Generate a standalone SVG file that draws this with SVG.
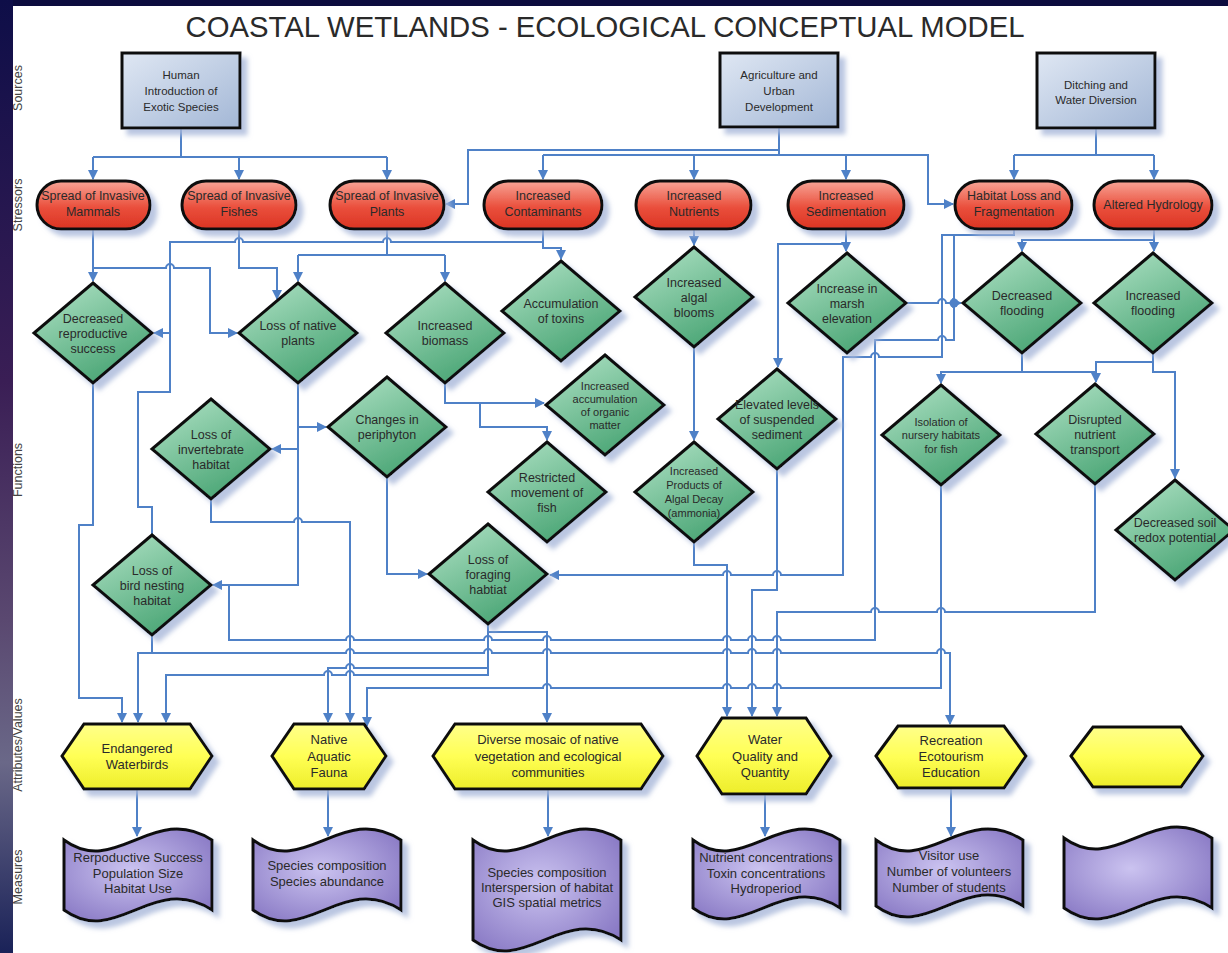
<svg xmlns="http://www.w3.org/2000/svg" width="1228" height="953" viewBox="0 0 1228 953">
<defs>
<style>
.box{fill:url(#gB);stroke:#111;stroke-width:3;filter:url(#sh)}
.pill{fill:url(#gR);stroke:#111;stroke-width:3;filter:url(#sh)}
.dia{fill:url(#gG);stroke:#111;stroke-width:3;filter:url(#sh)}
.hex{fill:url(#gY);stroke:#111;stroke-width:3;filter:url(#sh)}
.doc{fill:url(#gP);stroke:#111;stroke-width:3;filter:url(#sh)}
text{font-family:"Liberation Sans",Arial,sans-serif;fill:#2a2a2a;text-anchor:middle}
.t{font-size:12.5px}
.s{font-size:11px}
.ts{font-size:11.5px}
.m{font-size:13px}
.lab{font-size:12.5px;fill:#444}
.c{fill:none;stroke:#4f81c7;stroke-width:2}
.a{marker-end:url(#ah)}
</style>
<linearGradient id="gB" x1="0" y1="0" x2="1" y2="1"><stop offset="0" stop-color="#dfe7f3"/><stop offset="1" stop-color="#a3b7d6"/></linearGradient>
<linearGradient id="gR" x1="0" y1="0" x2="0" y2="1"><stop offset="0" stop-color="#f7a496"/><stop offset="0.55" stop-color="#ea4f3c"/><stop offset="1" stop-color="#db3422"/></linearGradient>
<linearGradient id="gG" x1="0.2" y1="0" x2="0.8" y2="1"><stop offset="0" stop-color="#a9dec0"/><stop offset="1" stop-color="#41a06e"/></linearGradient>
<linearGradient id="gY" x1="0" y1="0" x2="0" y2="1"><stop offset="0" stop-color="#ffff8a"/><stop offset="0.5" stop-color="#ffff55"/><stop offset="1" stop-color="#eded2a"/></linearGradient>
<radialGradient id="gP" cx="0.45" cy="0.45" r="0.7"><stop offset="0" stop-color="#cbc3f0"/><stop offset="1" stop-color="#8575c2"/></radialGradient>
<linearGradient id="gL" x1="0" y1="0" x2="0" y2="1"><stop offset="0" stop-color="#0e0e48"/><stop offset="0.4" stop-color="#3a1e55"/><stop offset="0.65" stop-color="#5a4870"/><stop offset="0.8" stop-color="#6a6888"/><stop offset="1" stop-color="#1a2258"/></linearGradient>
<filter id="sh" x="-20%" y="-20%" width="150%" height="150%">
<feGaussianBlur in="SourceAlpha" stdDeviation="2.5"/>
<feOffset dx="6" dy="6" result="o"/>
<feFlood flood-color="#a9b8da" flood-opacity="0.8"/>
<feComposite in2="o" operator="in"/>
<feMerge><feMergeNode/><feMergeNode in="SourceGraphic"/></feMerge>
</filter>
<marker id="ah" viewBox="0 0 10 10" refX="9" refY="5" markerWidth="5" markerHeight="5" orient="auto"><path d="M0,0 L10,5 L0,10 z" fill="#4f81c7"/></marker>
</defs>

<rect width="1228" height="953" fill="#0c0c3e"/>
<rect x="0" y="0" width="13" height="953" fill="url(#gL)"/>
<rect x="13" y="6" width="1215" height="947" fill="#ffffff"/>

<text x="605" y="37" font-size="29" textLength="839" lengthAdjust="spacingAndGlyphs" fill="#1e1e1e">COASTAL WETLANDS - ECOLOGICAL CONCEPTUAL MODEL</text>

<g id="row-labels">
<text class="lab" transform="translate(22,88) rotate(-90)">Sources</text>
<text class="lab" transform="translate(22,205) rotate(-90)">Stressors</text>
<text class="lab" transform="translate(22,470) rotate(-90)">Functions</text>
<text class="lab" transform="translate(22,745) rotate(-90)">Attributes/Values</text>
<text class="lab" transform="translate(22,877) rotate(-90)">Measures</text>
</g>

<g id="connectors">
<path class="c" d="M181,128 V157 M93,157 H387"/>
<path class="c a" d="M93,157 V179"/>
<path class="c a" d="M239,157 V179"/>
<path class="c a" d="M387,157 V179"/>
<path class="c" d="M779,127 V155"/>
<path class="c a" d="M779,150 H468 V204 H446"/>
<path class="c a" d="M543,155 H928 V204 H953"/>
<path class="c a" d="M543,155 V179"/>
<path class="c a" d="M694,155 V179"/>
<path class="c a" d="M846,155 V179"/>
<path class="c" d="M1096,128 V155 M1014,155 H1154"/>
<path class="c a" d="M1014,155 V179"/>
<path class="c a" d="M1154,155 V179"/>

<path class="c a" d="M93,229 V281"/>
<path class="c a" d="M93,268 H166 a4,4 0 0 1 8,0 H210 V333 H237"/>
<path class="c a" d="M239,229 V268 H277 V299"/>
<path class="c" d="M387,229 V255 M298,255 H445"/>
<path class="c a" d="M298,255 V281"/>
<path class="c a" d="M445,255 V281"/>
<path class="c a" d="M543,229 V248 H561 V259"/>
<path class="c a" d="M543,242 H391 a4,4 0 0 0 -8,0 H243 a4,4 0 0 0 -8,0 H170 V333 H154"/>
<path class="c" d="M170,333 V392 H138 V507 H152 V535"/>
<path class="c a" d="M694,229 V245"/>
<path class="c a" d="M846,229 V251"/>
<path class="c a" d="M846,244 H778 V367"/>
<path class="c a" d="M1014,229 V235 H942 V357 H879 a4,4 0 0 0 -8,0 H843 V575 H781 a4,4 0 0 0 -8,0 H731 a4,4 0 0 0 -8,0 H550"/>
<path class="c" d="M954,235 V340 H946 a4,4 0 0 0 -8,0 H875 V640 H781 a4,4 0 0 0 -8,0 H756 a4,4 0 0 0 -8,0 H731 a4,4 0 0 0 -8,0 H551 a4,4 0 0 0 -8,0 H492 a4,4 0 0 0 -8,0 H354 a4,4 0 0 0 -8,0 H229 V585"/>
<path class="c a" d="M906,303 H938 a4,4 0 0 1 8,0 H961"/>
<circle cx="954" cy="303" r="4.5" fill="#4f81c7"/>
<path class="c a" d="M1154,229 V251"/>
<path class="c a" d="M1154,240 H1022 V251"/>

<path class="c a" d="M93,383 V525 H79 V698 H122 V722"/>
<path class="c a" d="M298,383 V585 H213"/>
<path class="c a" d="M298,427 H326"/>
<path class="c a" d="M298,449 H272"/>
<path class="c a" d="M445,383 V403 H544"/>
<path class="c a" d="M480,403 V427 H547 V440"/>
<path class="c a" d="M694,347 V440"/>
<path class="c a" d="M387,477 V574 H427"/>
<path class="c a" d="M211,499 V522 H294 a4,4 0 0 1 8,0 H350 V722"/>
<path class="c a" d="M694,542 V565 H727 V716"/>
<path class="c a" d="M777,469 V590 H752 V716"/>
<path class="c a" d="M1095,484 V612 H945 a4,4 0 0 0 -8,0 H879 a4,4 0 0 0 -8,0 H777 V716"/>
<path class="c a" d="M941,485 V688 H781 a4,4 0 0 0 -8,0 H756 a4,4 0 0 0 -8,0 H731 a4,4 0 0 0 -8,0 H551 a4,4 0 0 0 -8,0 H367 V726"/>
<path class="c a" d="M152,635 V653 H138 V722"/>
<path class="c a" d="M152,653 H346 a4,4 0 0 1 8,0 H484 a4,4 0 0 1 8,0 H543 a4,4 0 0 1 8,0 H723 a4,4 0 0 1 8,0 H748 a4,4 0 0 1 8,0 H773 a4,4 0 0 1 8,0 H937 a4,4 0 0 1 8,0 H950 V724"/>
<path class="c a" d="M488,624 V675 H354 a4,4 0 0 0 -8,0 H332 a4,4 0 0 0 -8,0 H166 V722"/>
<path class="c a" d="M488,668 H354 a4,4 0 0 0 -8,0 H328 V722"/>
<path class="c a" d="M488,632 H547 V722"/>
<path class="c a" d="M1153,353 V372 H1175 V478"/>
<path class="c a" d="M1153,362 H1096 V382"/>
<path class="c a" d="M1022,353 V372 H941 V383"/>
<path class="c" d="M1022,372 H1096"/>

<path class="c a" d="M137,789 V836"/>
<path class="c a" d="M328,789 V836"/>
<path class="c a" d="M548,789 V836"/>
<path class="c a" d="M765,794 V836"/>
<path class="c a" d="M951,788 V836"/>
</g>

<g id="src-human"><rect class="box" x="122" y="53" width="118" height="75"/>
<text class="ts" x="181" y="79">Human</text><text class="ts" x="181" y="95">Introduction of</text><text class="ts" x="181" y="111">Exotic Species</text></g>
<g id="src-agri"><rect class="box" x="720" y="53" width="118" height="74"/>
<text class="ts" x="779" y="79">Agriculture and</text><text class="ts" x="779" y="95">Urban</text><text class="ts" x="779" y="111">Development</text></g>
<g id="src-ditch"><rect class="box" x="1037" y="53" width="118" height="75"/>
<text class="ts" x="1096" y="89">Ditching and</text><text class="ts" x="1096" y="104">Water Diversion</text></g>

<g id="st-mammals"><rect class="pill" x="37" y="181" width="113" height="48" rx="24"/>
<text class="t" x="93" y="200">Spread of Invasive</text><text class="t" x="93" y="216">Mammals</text></g>
<g id="st-fishes"><rect class="pill" x="182" y="181" width="114" height="48" rx="24"/>
<text class="t" x="239" y="200">Spread of Invasive</text><text class="t" x="239" y="216">Fishes</text></g>
<g id="st-plants"><rect class="pill" x="330" y="181" width="114" height="48" rx="24"/>
<text class="t" x="387" y="200">Spread of Invasive</text><text class="t" x="387" y="216">Plants</text></g>
<g id="st-contam"><rect class="pill" x="484" y="181" width="118" height="48" rx="24"/>
<text class="t" x="543" y="200">Increased</text><text class="t" x="543" y="216">Contaminants</text></g>
<g id="st-nutr"><rect class="pill" x="636" y="181" width="115" height="48" rx="24"/>
<text class="t" x="694" y="200">Increased</text><text class="t" x="694" y="216">Nutrients</text></g>
<g id="st-sed"><rect class="pill" x="788" y="181" width="116" height="48" rx="24"/>
<text class="t" x="846" y="200">Increased</text><text class="t" x="846" y="216">Sedimentation</text></g>
<g id="st-habitat"><rect class="pill" x="955" y="181" width="117" height="48" rx="24"/>
<text class="t" x="1014" y="200">Habitat Loss and</text><text class="t" x="1014" y="216">Fragmentation</text></g>
<g id="st-hydro"><rect class="pill" x="1094" y="181" width="118" height="48" rx="24"/>
<text class="t" x="1153" y="209">Altered Hydrology</text></g>

<g id="fn-repro"><polygon class="dia" points="93,283 152,333 93,383 34,333"/>
<text class="t" x="93" y="322.5">Decreased</text><text class="t" x="93" y="337.5">reproductive</text><text class="t" x="93" y="352.5">success</text></g>
<g id="fn-natplants"><polygon class="dia" points="298,283 357,333 298,383 239,333"/>
<text class="t" x="298" y="330">Loss of native</text><text class="t" x="298" y="345">plants</text></g>
<g id="fn-biomass"><polygon class="dia" points="445,283 504,333 445,383 386,333"/>
<text class="t" x="445" y="330">Increased</text><text class="t" x="445" y="345">biomass</text></g>
<g id="fn-toxins"><polygon class="dia" points="561,261 620,311 561,361 502,311"/>
<text class="t" x="561" y="308">Accumulation</text><text class="t" x="561" y="323">of toxins</text></g>
<g id="fn-algal"><polygon class="dia" points="694,247 753,297 694,347 635,297"/>
<text class="t" x="694" y="286.5">Increased</text><text class="t" x="694" y="301.5">algal</text><text class="t" x="694" y="316.5">blooms</text></g>
<g id="fn-marsh"><polygon class="dia" points="847,253 906,303 847,353 788,303"/>
<text class="t" x="847" y="292.5">Increase in</text><text class="t" x="847" y="307.5">marsh</text><text class="t" x="847" y="322.5">elevation</text></g>
<g id="fn-decflood"><polygon class="dia" points="1022,253 1081,303 1022,353 963,303"/>
<text class="t" x="1022" y="300">Decreased</text><text class="t" x="1022" y="315">flooding</text></g>
<g id="fn-incflood"><polygon class="dia" points="1153,253 1212,303 1153,353 1094,303"/>
<text class="t" x="1153" y="300">Increased</text><text class="t" x="1153" y="315">flooding</text></g>
<g id="fn-accum"><polygon class="dia" points="605,355 664,405 605,455 546,405"/>
<text class="s" x="605" y="389.5">Increased</text><text class="s" x="605" y="402.5">accumulation</text><text class="s" x="605" y="415.5">of organic</text><text class="s" x="605" y="428.5">matter</text></g>
<g id="fn-periphyton"><polygon class="dia" points="387,377 446,427 387,477 328,427"/>
<text class="t" x="387" y="424">Changes in</text><text class="t" x="387" y="439">periphyton</text></g>
<g id="fn-invert"><polygon class="dia" points="211,399 270,449 211,499 152,449"/>
<text class="t" x="211" y="438.5">Loss of</text><text class="t" x="211" y="453.5">invertebrate</text><text class="t" x="211" y="468.5">habitat</text></g>
<g id="fn-elevated"><polygon class="dia" points="777,369 836,419 777,469 718,419"/>
<text class="t" x="777" y="408.5">Elevated levels</text><text class="t" x="777" y="423.5">of suspended</text><text class="t" x="777" y="438.5">sediment</text></g>
<g id="fn-isolation"><polygon class="dia" points="941,385 1000,435 941,485 882,435"/>
<text class="s" x="941" y="425.5">Isolation of</text><text class="s" x="941" y="439">nursery habitats</text><text class="s" x="941" y="452.5">for fish</text></g>
<g id="fn-disrupted"><polygon class="dia" points="1095,384 1154,434 1095,484 1036,434"/>
<text class="t" x="1095" y="423.5">Disrupted</text><text class="t" x="1095" y="438.5">nutrient</text><text class="t" x="1095" y="453.5">transport</text></g>
<g id="fn-restricted"><polygon class="dia" points="547,442 606,492 547,542 488,492"/>
<text class="t" x="547" y="481.5">Restricted</text><text class="t" x="547" y="496.5">movement of</text><text class="t" x="547" y="511.5">fish</text></g>
<g id="fn-products"><polygon class="dia" points="694,442 753,492 694,542 635,492"/>
<text class="s" x="694" y="475">Increased</text><text class="s" x="694" y="489">Products of</text><text class="s" x="694" y="503">Algal Decay</text><text class="s" x="694" y="517">(ammonia)</text></g>
<g id="fn-redox"><polygon class="dia" points="1175,480 1234,530 1175,580 1116,530"/>
<text class="t" x="1175" y="526.5">Decreased soil</text><text class="t" x="1175" y="541.5">redox potential</text></g>
<g id="fn-birdnest"><polygon class="dia" points="152,535 211,585 152,635 93,585"/>
<text class="t" x="152" y="574.5">Loss of</text><text class="t" x="152" y="589.5">bird nesting</text><text class="t" x="152" y="604.5">habitat</text></g>
<g id="fn-foraging"><polygon class="dia" points="488,524 547,574 488,624 429,574"/>
<text class="t" x="488" y="563.5">Loss of</text><text class="t" x="488" y="578.5">foraging</text><text class="t" x="488" y="593.5">habtiat</text></g>

<g id="av-waterbirds"><polygon class="hex" points="62,756 84,724 190,724 212,756 190,789 84,789"/>
<text class="m" x="137" y="752.5">Endangered</text><text class="m" x="137" y="769">Waterbirds</text></g>
<g id="av-fauna"><polygon class="hex" points="272,756 294,724 364,724 386,756 364,789 294,789"/>
<text class="m" x="329" y="744">Native</text><text class="m" x="329" y="760.5">Aquatic</text><text class="m" x="329" y="777">Fauna</text></g>
<g id="av-mosaic"><polygon class="hex" points="433,756 455,724 641,724 663,756 641,789 455,789"/>
<text class="m" x="548" y="744">Diverse mosaic of native</text><text class="m" x="548" y="760.5">vegetation and ecological</text><text class="m" x="548" y="777">communities</text></g>
<g id="av-water"><polygon class="hex" points="697,756 722,718 806,718 831,756 806,794 722,794"/>
<text class="m" x="765" y="744">Water</text><text class="m" x="765" y="760.5">Quality and</text><text class="m" x="765" y="777">Quantity</text></g>
<g id="av-recreation"><polygon class="hex" points="876,756 898,726 1004,726 1026,756 1004,788 898,788"/>
<text class="m" x="951" y="745">Recreation</text><text class="m" x="951" y="761">Ecotourism</text><text class="m" x="951" y="777">Education</text></g>
<g id="av-empty"><polygon class="hex" points="1071,756 1093,727 1181,727 1203,756 1181,787 1093,787"/></g>

<g id="ms-birds"><path class="doc" d="M64,840 C116,878 153,802 212,840 V910 C153,872 116,948 64,910 Z"/>
<text class="m" x="138" y="861.5">Rerpoductive Success</text><text class="m" x="138" y="877.5">Population Size</text><text class="m" x="138" y="892.5">Habitat Use</text></g>
<g id="ms-fauna"><path class="doc" d="M253,840 C305,878 342,802 401,840 V910 C342,872 305,948 253,910 Z"/>
<text class="m" x="327" y="869.5">Species composition</text><text class="m" x="327" y="885.5">Species abundance</text></g>
<g id="ms-mosaic"><path class="doc" d="M473,840 C525,878 562,802 621,840 V940 C562,902 525,978 473,940 Z"/>
<text class="m" x="547" y="876.5">Species composition</text><text class="m" x="547" y="891.5">Interspersion of habitat</text><text class="m" x="547" y="906.5">GIS spatial metrics</text></g>
<g id="ms-water"><path class="doc" d="M693,840 C744,878 781,802 840,840 V908 C781,870 744,946 693,908 Z"/>
<text class="m" x="766" y="861.5">Nutrient concentrations</text><text class="m" x="766" y="877.5">Toxin concentrations</text><text class="m" x="766" y="892.5">Hydroperiod</text></g>
<g id="ms-recreation"><path class="doc" d="M876,840 C927,878 964,802 1023,840 V906 C964,868 927,944 876,906 Z"/>
<text class="m" x="949" y="859.5">Visitor use</text><text class="m" x="949" y="875.5">Number of volunteers</text><text class="m" x="949" y="891.5">Number of students</text></g>
<g id="ms-empty"><path class="doc" d="M1064,838 C1116,876 1153,800 1212,838 V908 C1153,870 1116,946 1064,908 Z"/></g>
</svg>
